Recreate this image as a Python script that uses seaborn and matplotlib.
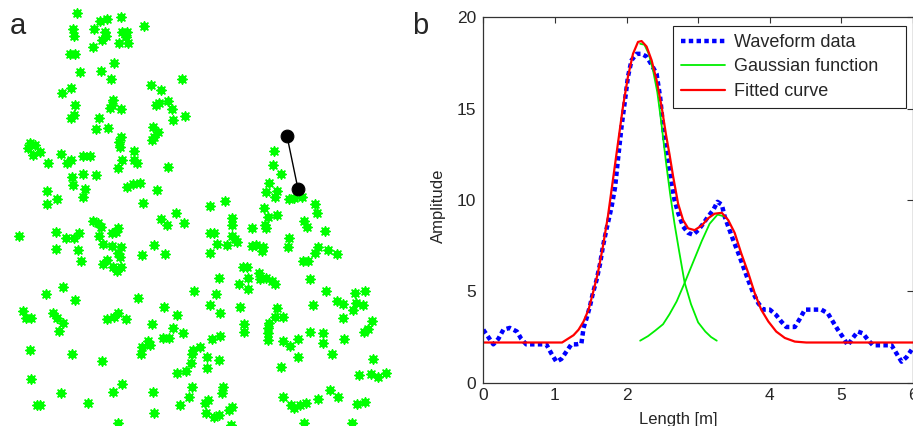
import pandas as pd
import seaborn as sns
import matplotlib
matplotlib.use("Agg")
import matplotlib.pyplot as plt

# panel a : positions (picture units, y downwards)
tree_x = [77, 100, 107, 121, 144, 73, 74, 94, 105, 106,
          102, 122, 127, 126, 128, 119, 93, 70, 75, 114,
          80, 101, 111, 182, 151, 161, 71, 62, 113, 112,
          110, 121, 75, 168, 159, 156, 172, 185, 173, 74,
          71, 99, 96, 108, 153, 158, 154, 152, 121, 119,
          120, 134, 30, 35, 28, 33, 40, 61, 48, 83,
          90, 67, 71, 122, 134, 137, 118, 168, 72, 83,
          96, 73, 85, 127, 133, 140, 47, 157, 83, 57,
          47, 143, 176,
          19, 56, 66, 74, 79, 56, 78, 81, 93, 98,
          101, 99, 112, 116, 118, 103, 112, 121, 118, 120,
          107, 103, 113, 117, 121, 142, 154, 165, 161, 167,
          184, 194, 63, 46, 75, 23, 26, 31, 53, 57,
          63, 59, 107, 114, 118, 126, 138, 164, 177, 152,
          173, 183, 163, 169, 148, 150, 142, 141, 30, 72, 102, 193,
          192, 191, 186, 177, 31, 122, 113, 61, 153, 192,
          189, 37, 40, 88, 180, 154, 118,
          274, 273, 281, 269, 266, 277, 275, 289, 294, 302,
          210, 225, 264, 315,
          232, 232, 232, 235, 237, 210, 214, 217, 227, 210,
          252, 265, 266, 268, 277, 252, 256, 263, 262, 289,
          288, 304, 307, 317, 325, 318, 315, 328, 337, 303,
          308, 243, 247, 219, 248, 259, 260, 266, 272, 275,
          239, 248, 310, 216, 210, 220, 240, 277, 275, 283,
          269, 268, 244, 244, 268, 268, 313, 326, 337, 343,
          355, 365, 356, 363, 353, 343, 372, 368, 364, 310,
          323, 323, 344, 332, 212, 220, 200, 207, 219, 207,
          283, 290, 298, 298, 281, 373, 359, 371, 378, 386,
          223, 222, 208, 205, 206, 214, 219, 229, 232, 283,
          291, 294, 300, 306, 318, 330, 338, 357, 365, 304,
          352, 231]
tree_y = [13, 21, 19, 17, 26, 29, 36, 29, 32, 36,
          40, 32, 32, 37, 43, 43, 47, 54, 54, 63,
          72, 71, 79, 79, 85, 90, 88, 93, 100, 105,
          108, 109, 105, 101, 103, 105, 109, 116, 120, 115,
          118, 118, 129, 128, 127, 132, 137, 140, 137, 142,
          147, 151, 143, 145, 148, 155, 152, 154, 163, 156,
          156, 163, 160, 160, 160, 163, 168, 167, 177, 174,
          175, 185, 189, 187, 184, 183, 191, 190, 197, 199,
          204, 203, 213,
          236, 232, 238, 238, 233, 249, 250, 261, 221, 223,
          227, 236, 233, 232, 228, 244, 246, 247, 253, 257,
          260, 264, 267, 271, 267, 255, 245, 254, 219, 225,
          223, 291, 287, 294, 300, 311, 318, 318, 313, 318,
          323, 331, 319, 317, 313, 319, 298, 307, 315, 324,
          328, 333, 338, 338, 341, 345, 347, 354, 350, 354, 361, 350,
          354, 363, 371, 373, 379, 384, 392, 393, 392, 387,
          397, 405, 405, 403, 405, 413, 423,
          151, 165, 174, 183, 192, 191, 197, 199, 198, 197,
          206, 201, 208, 204,
          218, 225, 236, 239, 242, 233, 233, 244, 245, 253,
          228, 225, 228, 217, 215, 246, 245, 247, 251, 238,
          247, 221, 227, 213, 231, 247, 253, 250, 254, 261,
          261, 267, 267, 278, 278, 273, 279, 278, 281, 284,
          284, 289, 279, 294, 305, 313, 307, 308, 317, 317,
          323, 328, 324, 332, 333, 340, 305, 291, 301, 304,
          293, 291, 303, 305, 310, 318, 321, 329, 332, 332,
          333, 343, 339, 354, 339, 336, 347, 357, 360, 368,
          341, 346, 339, 357, 367, 359, 375, 374, 377, 373,
          387, 393, 400, 403, 413, 417, 415, 410, 407, 397,
          405, 408, 405, 403, 399, 390, 397, 404, 402, 423,
          423, 425]
pair_x = [287, 298]
pair_y = [136, 189]

# panel b : waveform, gaussians and fit
wave_x = [0.00, 0.07, 0.14, 0.21, 0.28, 0.37, 0.47, 0.53, 0.60, 0.74,
          0.88, 0.95, 1.02, 1.09, 1.16, 1.23, 1.30, 1.37, 1.40, 1.44,
          1.49, 1.53, 1.58, 1.63, 1.67, 1.72, 1.79, 1.84, 1.88, 1.93,
          1.98, 2.02, 2.07, 2.14, 2.21, 2.28, 2.35, 2.42, 2.47, 2.53,
          2.58, 2.63, 2.67, 2.72, 2.79, 2.86, 2.93, 3.00, 3.07, 3.14,
          3.21, 3.27, 3.33, 3.37, 3.42, 3.49, 3.56, 3.63, 3.70, 3.77,
          3.84, 3.91, 4.00, 4.09, 4.16, 4.23, 4.35, 4.42, 4.49, 4.60,
          4.72, 4.81, 4.88, 4.95, 5.02, 5.09, 5.16, 5.23, 5.30, 5.37,
          5.44, 5.56, 5.70, 5.77, 5.84, 5.91, 5.98]
wave_y = [2.9, 2.5, 2.1, 2.4, 2.9, 3.0, 2.8, 2.4, 2.1, 2.1,
          2.1, 1.6, 1.15, 1.3, 1.7, 2.1, 2.1, 2.15, 3.0, 3.5,
          4.2, 4.9, 5.6, 6.5, 7.45, 8.4, 9.6, 10.7, 12.2, 14.0,
          15.5, 16.75, 17.65, 18.0, 18.0, 17.85, 17.4, 16.9, 15.6, 13.3,
          12.2, 10.9, 10.0, 9.3, 8.55, 8.2, 8.1, 8.35, 8.7, 9.1,
          9.45, 9.9, 9.75, 9.1, 8.55, 7.8, 7.1, 6.35, 5.6, 4.9,
          4.35, 4.0, 4.0, 3.7, 3.35, 3.05, 3.05, 3.5, 4.0, 4.0,
          4.0, 3.8, 3.35, 2.9, 2.5, 2.05, 2.45, 2.8, 2.7, 2.35,
          2.05, 2.05, 2.05, 1.6, 1.15, 1.4, 1.8]

gauss1_x = [2.19, 2.25, 2.31, 2.37, 2.43, 2.49, 2.55, 2.61, 2.67, 2.73,
            2.81, 2.90, 3.00, 3.10, 3.18, 3.26]
gauss1_y = [18.55, 18.5, 18.0, 17.1, 15.9, 14.1, 12.1, 10.3, 8.7, 7.3,
            5.5, 4.3, 3.3, 2.8, 2.5, 2.3]
gauss2_x = [2.19, 2.30, 2.40, 2.51, 2.60, 2.70, 2.81, 2.93, 3.05, 3.16,
            3.27, 3.37]
gauss2_y = [2.3, 2.55, 2.85, 3.2, 3.75, 4.45, 5.45, 6.6, 7.75, 8.7,
            9.2, 9.1]

fit_x = [0.0, 1.10, 1.16, 1.26, 1.33, 1.40, 1.47, 1.53, 1.60, 1.67,
         1.74, 1.81, 1.88, 1.95, 2.02, 2.09, 2.16, 2.21, 2.28, 2.35,
         2.42, 2.49, 2.55, 2.60, 2.65, 2.72, 2.79, 2.86, 2.95, 3.05,
         3.14, 3.23, 3.33, 3.42, 3.51, 3.60, 3.70, 3.79, 3.88, 3.98,
         4.09, 4.21, 4.35, 4.51, 6.0]
fit_y = [2.2, 2.2, 2.35, 2.6, 2.9, 3.35, 4.0, 4.9, 6.0, 7.45,
         9.1, 11.1, 13.1, 15.1, 16.75, 18.0, 18.65, 18.7, 18.4, 17.65,
         16.55, 15.1, 13.6, 12.5, 11.3, 9.8, 8.9, 8.45, 8.35, 8.6,
         9.0, 9.25, 9.3, 8.9, 8.2, 7.1, 6.0, 4.9, 4.0, 3.35,
         2.8, 2.45, 2.25, 2.2, 2.2]

x_ticks = [0, 1, 2, 3, 4, 5, 6]
x_tick_labels = ["0", "1", "2", "", "4", "5", "6"]
y_ticks = [0, 5, 10, 15, 20]

assert len(tree_x) == len(tree_y)
assert len(wave_x) == len(wave_y)
assert len(fit_x) == len(fit_y)

sns.set_style("white")
plt.rcParams["font.family"] = ["Liberation Sans", "DejaVu Sans"]
plt.rcParams["xtick.direction"] = "in"
plt.rcParams["ytick.direction"] = "in"

fig = plt.figure(figsize=(9.13, 4.26), dpi=100)

#panel a  (round blob + small asterisk for the bumpy edge)
ax_a = fig.add_axes([0, 0, 400 / 913, 1])
sns.scatterplot(x=tree_x, y=tree_y, ax=ax_a, marker="o", s=30,
                color="#00ff00", edgecolor="#00ff00", linewidth=0.4, legend=False)
sns.scatterplot(x=tree_x, y=tree_y, ax=ax_a, marker=(8, 2, 0), s=48,
                color="#00ff00", edgecolor="#00ff00", linewidth=1.0, legend=False)
sns.lineplot(x=pair_x, y=pair_y, ax=ax_a, color="black", lw=1, sort=False, estimator=None)
sns.scatterplot(x=pair_x, y=pair_y, ax=ax_a, s=85, color="black", edgecolor="black", legend=False)
ax_a.set_xlim(0, 400)
ax_a.set_ylim(426, 0)
ax_a.axis("off")

#panel b
ax_b = fig.add_axes([483.3 / 913, 1 - 382.7 / 426, 429.7 / 913, 365.4 / 426])
sns.lineplot(x=wave_x, y=wave_y, ax=ax_b, color="#0000ff", lw=3.2, sort=False, estimator=None,
             linestyle=(0, (1, 0.75)), dash_capstyle="butt", label="Waveform data")
sns.lineplot(x=gauss1_x, y=gauss1_y, ax=ax_b, color="#00ee00", lw=1.3, sort=False, estimator=None,
             label="Gaussian function    ")
sns.lineplot(x=gauss2_x, y=gauss2_y, ax=ax_b, color="#00ee00", lw=1.3, sort=False, estimator=None)
sns.lineplot(x=fit_x, y=fit_y, ax=ax_b, color="#ff0000", lw=1.6, sort=False, estimator=None,
             label="Fitted curve")

ax_b.set_xlim(0, 6)
ax_b.set_ylim(0, 20)
ax_b.set_xticks(x_ticks)
ax_b.set_xticklabels(x_tick_labels)
ax_b.set_yticks(y_ticks)
ax_b.tick_params(axis="both", which="both", top=True, right=True, length=4, width=0.8,
                 labelsize=12.5, color="#333333")
ax_b.tick_params(axis="y", pad=5)
ax_b.tick_params(axis="x", pad=4)
for sp in ax_b.spines.values():
    sp.set_color("#333333")
    sp.set_linewidth(0.9)

ax_b.set_xlabel("Length [m]", fontsize=12)
ax_b.xaxis.set_label_coords(0.453, -0.08)
ax_b.set_ylabel("Amplitude", fontsize=12)
ax_b.yaxis.set_label_coords(-0.087, 0.484)

handles, labels = ax_b.get_legend_handles_labels()
leg = ax_b.legend(handles, labels, loc="upper right", bbox_to_anchor=(0.984, 0.977),
                  borderaxespad=0, fontsize=13, fancybox=False, framealpha=1,
                  handlelength=2.4, labelspacing=0.42, handletextpad=0.5,
                  borderpad=0.45)
leg.get_frame().set_edgecolor("#222222")
leg.get_frame().set_linewidth(0.8)

fig.text(10 / 913, 1 - 34 / 426, "a", fontsize=21, va="baseline")
fig.text(412 / 913, 1 - 34 / 426, "b", fontsize=21, va="baseline")

fig.savefig("out.png", dpi=100)
